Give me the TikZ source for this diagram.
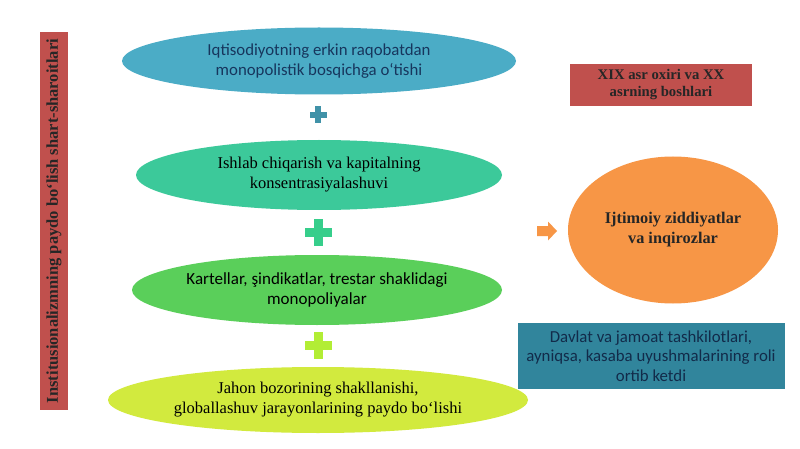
\documentclass[tikz,border=0pt]{standalone}
\usepackage{fontspec}
\setmainfont{Liberation Serif}
\newfontfamily\calfont{Carlito}
\usetikzlibrary{shapes.geometric}
\definecolor{cblue}{HTML}{4BACC6}
\definecolor{cteal}{HTML}{3CC99A}
\definecolor{cgreen}{HTML}{5ACF5A}
\definecolor{cyel}{HTML}{D2EA3E}
\definecolor{cred}{HTML}{C0504D}
\definecolor{corange}{HTML}{F79646}
\definecolor{cbox}{HTML}{31859C}
\definecolor{navy}{HTML}{17365D}
\tikzset{
  ell/.style={ellipse, inner sep=0pt, align=center, font=\fontsize{16.5}{20}\selectfont},
}
\newcommand{\plusat}[4]{% x y size color
  \fill[#4] (#1-#3/2,#2-#3/6) rectangle (#1+#3/2,#2+#3/6);
  \fill[#4] (#1-#3/6,#2-#3/2) rectangle (#1+#3/6,#2+#3/2);}
\begin{document}
\begin{tikzpicture}[x=1pt,y=-1pt]
\useasboundingbox[fill=white] (0,0) rectangle (800,449);
% left bar
\node[fill=cred, rotate=90, minimum width=378pt, minimum height=28pt, inner sep=0pt,
  font=\bfseries\fontsize{16.5}{18}\selectfont, text=black!85] (bar) at (54,221)
  {Institusionalizmning paydo bo‘lish shart-sharoitlari};
% ellipses
\node[ell, fill=cblue, minimum width=394pt, minimum height=67pt, text=navy, font=\calfont\fontsize{16.8}{20}\selectfont] (e1) at (319,61)
  {Iqtisodiyotning erkin raqobatdan\\monopolistik bosqichga o‘tishi};
\node[ell, fill=cteal, minimum width=366pt, minimum height=70pt] (e2) at (319,175)
  {Ishlab chiqarish va kapitalning\\konsentrasiyalashuvi};
\node[ell, fill=cgreen, minimum width=370pt, minimum height=70pt, font=\calfont\fontsize{17}{20}\selectfont] (e3) at (317,290)
  {Kartellar, şindikatlar, trestar shaklidagi\\monopoliyalar};
\node[ell, fill=cyel, minimum width=420pt, minimum height=66pt] (e4) at (318,400)
  {Jahon bozorining shakllanishi,\\globallashuv jarayonlarining paydo bo‘lishi};
% plus signs
\plusat{318}{115}{17}{cblue!85!black}
\plusat{318}{232}{27}{cteal!90!green}
\plusat{318}{345}{27}{cyel!85!green}
% red box
\node[fill=cred, minimum width=182pt, minimum height=42pt, inner sep=0pt, align=center,
  font=\bfseries\fontsize{14.7}{17}\selectfont, text=black!85] (rb) at (661,85)
  {XIX asr oxiri va XX\\asrning boshlari};
% orange ellipse
\node[ell, fill=corange, minimum width=210pt, minimum height=147pt,
  font=\bfseries\fontsize{16.3}{20}\selectfont, text=black!85] (oe) at (673,230)
  {Ijtimoiy ziddiyatlar\\va inqirozlar};
% arrow
\coordinate (ar) at (537,231);
\fill[corange] (ar) ++(0,-5) -- ++(11,0) -- ++(0,-4.5) -- ++(9,9.5) -- ++(-9,9.5) -- ++(0,-4.5) -- ++(-11,0) -- cycle;
% teal box
\node[fill=cbox, minimum width=267pt, minimum height=66pt, inner sep=0pt, align=center,
  font=\calfont\fontsize{16.8}{19.5}\selectfont, text=navy!80!black] (tb) at (651,356)
  {Davlat va jamoat tashkilotlari,\\ayniqsa, kasaba uyushmalarining roli\\ortib ketdi};
\end{tikzpicture}
\end{document}
